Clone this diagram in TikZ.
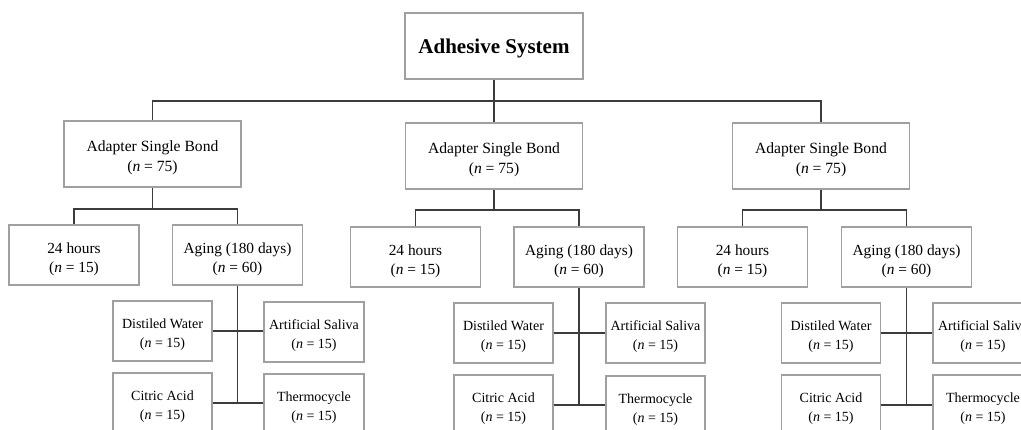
\documentclass[tikz,border=0pt]{standalone}
\usepackage{fontspec}
\setmainfont{Liberation Serif}
\definecolor{boxgray}{RGB}{160,160,160}
\definecolor{linegray}{RGB}{60,60,60}
\newcommand{\topstrut}[1]{\rule{0pt}{#1}}
\tikzset{
  box/.style={draw=boxgray, line width=1.3pt, fill=white, align=center, inner sep=0pt},
  topbox/.style={box, minimum width=178pt, minimum height=66pt, font=\fontsize{21}{24}\selectfont\bfseries},
  asbbox/.style={box, minimum width=177pt, minimum height=66pt, font=\fontsize{15.6}{20}\selectfont},
  midbox/.style={box, minimum width=130pt, minimum height=60pt, font=\fontsize{15.4}{19}\selectfont},
  smallbox/.style={box, minimum width=99pt, minimum height=60pt, font=\fontsize{14}{19}\selectfont},
  conn/.style={draw=linegray, line width=1.5pt}
}
\newcommand{\nn}[1]{({\itshape n} = #1)}
\newcommand{\mylineA}[1]{\topstrut{18.5pt}#1}
\newcommand{\mylineB}[1]{\topstrut{17.6pt}#1}
\begin{document}
\begin{tikzpicture}[x=1pt,y=-1pt]
\clip (0,0) rectangle (1021,430);
\fill[white] (0,0) rectangle (1021,430);

\coordinate (bus0) at (494,101);

\node[topbox] (top) at (494,46) {\topstrut{19.5pt}Adhesive System};

\node[asbbox] (asb1) at (152.5,154) {\mylineA{Adapter Single Bond}\\\nn{75}};
\node[asbbox] (asb2) at (494,156) {\mylineA{Adapter Single Bond}\\\nn{75}};
\node[asbbox] (asb3) at (821,156) {\mylineA{Adapter Single Bond}\\\nn{75}};

% group 1
\node[midbox] (h1) at (74,255) {\mylineA{24 hours}\\\nn{15}};
\node[midbox] (a1) at (237.5,255) {\mylineA{Aging (180 days)}\\\nn{60}};
\node[smallbox] (dw1) at (162.5,331) {\mylineB{Distiled Water}\\\nn{15}};
\node[smallbox, minimum width=100pt] (as1) at (314,332) {\mylineB{Artificial Saliva}\\\nn{15}};
\node[smallbox] (ca1) at (162.5,403) {\mylineB{Citric Acid}\\\nn{15}};
\node[smallbox, minimum width=100pt] (tc1) at (314,404) {\mylineB{Thermocycle}\\\nn{15}};

% group 2
\node[midbox] (h2) at (415.5,257) {\mylineA{24 hours}\\\nn{15}};
\node[midbox] (a2) at (579,257) {\mylineA{Aging (180 days)}\\\nn{60}};
\node[smallbox] (dw2) at (503.5,333) {\mylineB{Distiled Water}\\\nn{15}};
\node[smallbox] (as2) at (655.5,333) {\mylineB{Artificial Saliva}\\\nn{15}};
\node[smallbox] (ca2) at (503.5,405) {\mylineB{Citric Acid}\\\nn{15}};
\node[smallbox] (tc2) at (655.5,406) {\mylineB{Thermocycle}\\\nn{15}};

% group 3
\node[midbox] (h3) at (742.5,257) {\mylineA{24 hours}\\\nn{15}};
\node[midbox] (a3) at (906.5,257) {\mylineA{Aging (180 days)}\\\nn{60}};
\node[smallbox] (dw3) at (831,333) {\mylineB{Distiled Water}\\\nn{15}};
\node[smallbox, minimum width=100pt] (as3) at (983,333) {\mylineB{Artificial Saliva}\\\nn{15}};
\node[smallbox] (ca3) at (831,405) {\mylineB{Citric Acid}\\\nn{15}};
\node[smallbox, minimum width=100pt] (tc3) at (983,405) {\mylineB{Thermocycle}\\\nn{15}};

\coordinate (bus1) at (152.5,209);
\coordinate (bus2) at (494,210);
\coordinate (bus3) at (821,210);

\begin{scope}[conn]
\draw (top.south) -- (asb2.north);
\draw (asb1.north) -- (asb1.north |- bus0) -- (asb3.north |- bus0) -- (asb3.north);
\foreach \i in {1,2,3}{
  \draw (asb\i.south) -- (bus\i);
  \draw (h\i.north) -- (h\i.north |- bus\i) -- (a\i.north |- bus\i) -- (a\i.north);
  \draw (a\i.south) -- (a\i.south |- ca\i.east);
  \draw (dw\i.east) -- (dw\i.east -| as\i.west);
  \draw (ca\i.east) -- (ca\i.east -| tc\i.west);
}
\end{scope}
\end{tikzpicture}
\end{document}
